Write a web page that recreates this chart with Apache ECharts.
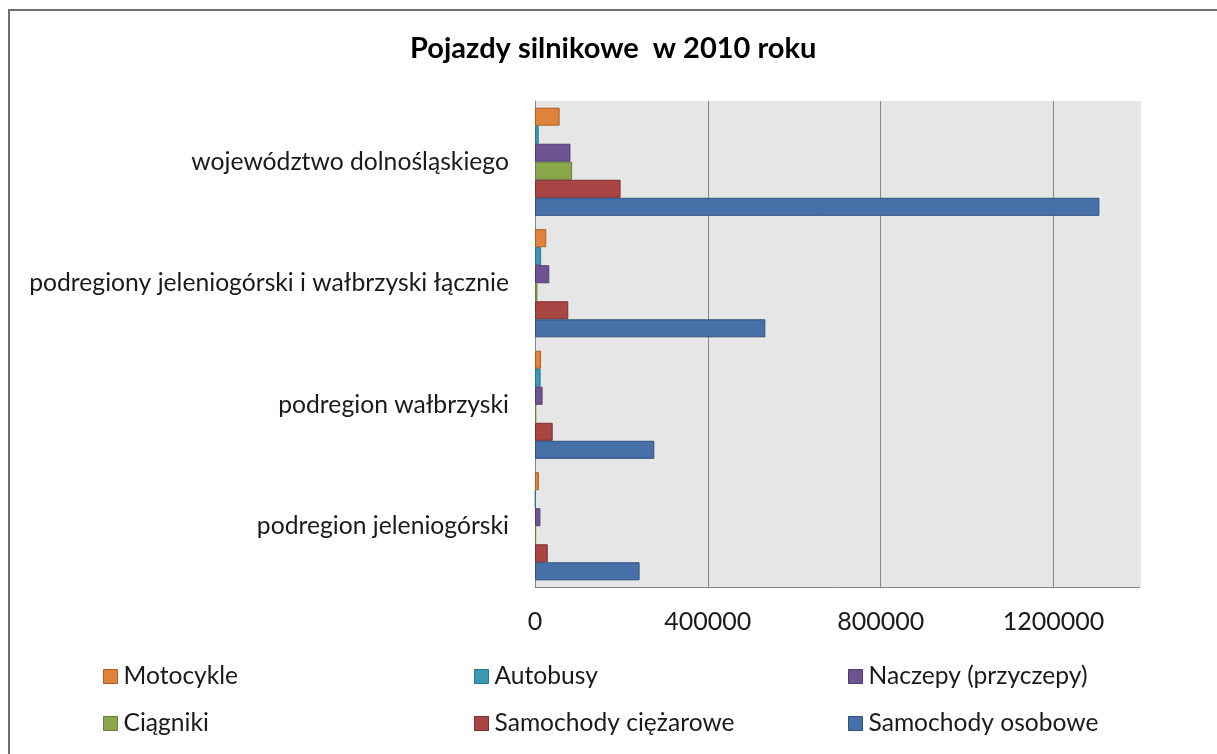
<!DOCTYPE html>
<html>
<head>
<meta charset="utf-8">
<script src="https://cdn.jsdelivr.net/npm/echarts@6/dist/echarts.min.js"></script>
<style>
html,body{margin:0;padding:0;background:#fff;}
#chart{width:1217px;height:754px;}
</style>
</head>
<body>
<div id="chart"></div>
<script>
const categories = ["województwo dolnośląskiego", "podregiony jeleniogórski i wałbrzyski łącznie", "podregion wałbrzyski", "podregion jeleniogórski"];
const seriesNames = ["Motocykle", "Autobusy", "Naczepy (przyczepy)", "Ciągniki", "Samochody ciężarowe", "Samochody osobowe"];
const motocykle = [57000, 26000, 14000, 9000];
const autobusy = [8500, 14000, 13000, 1500];
const naczepy = [82000, 33000, 17500, 12500];
const ciagniki = [86000, 5500, 3000, 2800];
const ciezarowe = [198000, 77000, 41000, 29500];
const osobowe = [1306000, 533000, 276000, 242000];
const xTicks = [0, 400000, 800000, 1200000];

const seriesData = [motocykle, autobusy, naczepy, ciagniki, ciezarowe, osobowe];
const fills = ["#E0823C", "#3A9AB4", "#6E5493", "#8BA74B", "#A94544", "#4570A8"];
const borders = ["#A95F26", "#2A7388", "#4F3B6E", "#66803A", "#7D2F2E", "#2F517D"];

const chart = echarts.init(document.getElementById('chart'));
const FONT = 'Lato';
const series = seriesNames.map((n, i) => ({
  name: n,
  type: 'bar',
  data: seriesData[i],
  barGap: '0%',
  barCategoryGap: '11%',
  itemStyle: { color: fills[i], borderColor: borders[i], borderWidth: 1 }
}));

function legendCol(names, left) {
  return {
    data: names, orient: 'vertical', left: left, top: 664, padding: 0,
    itemWidth: 14, itemHeight: 14, itemGap: 22,
    icon: 'rect',
    itemStyle: { borderWidth: 1 },
    textStyle: { fontFamily: FONT, fontSize: 24.6, lineHeight: 24, color: '#1a1a1a', padding: [0, 0, 0, 1] },
    selectedMode: false
  };
}

chart.setOption({
  animation: false,
  backgroundColor: '#ffffff',
  title: {
    text: 'Pojazdy silnikowe  w 2010 roku',
    left: 410, top: 34, padding: 0,
    textStyle: { fontFamily: FONT, fontWeight: 'bold', fontSize: 29, color: '#000' }
  },
  graphic: [{
    type: 'polyline',
    shape: { points: [[9, 760], [9, 10], [1220, 10]] },
    style: { stroke: '#6e6e6e', lineWidth: 2, fill: null },
    silent: true
  }],
  legend: [
    legendCol([seriesNames[0], seriesNames[3]], 103),
    legendCol([seriesNames[1], seriesNames[4]], 474),
    legendCol([seriesNames[2], seriesNames[5]], 848)
  ],
  grid: {
    left: 535, top: 101, width: 605, height: 486,
    show: true, backgroundColor: '#e6e6e6', borderWidth: 0
  },
  xAxis: {
    type: 'value', min: 0, max: 1400000, interval: 400000,
    axisLine: { show: true, lineStyle: { color: '#868686', width: 1 } },
    axisTick: { show: false },
    axisLabel: {
      margin: 22, fontFamily: FONT, fontSize: 25, color: '#1a1a1a',
      formatter: v => xTicks.includes(v) ? String(v) : ''
    },
    splitLine: { show: true, lineStyle: { color: ['#e6e6e6', '#868686', '#868686', '#868686', '#e6e6e6'], width: 1 } }
  },
  yAxis: {
    type: 'category', data: categories, inverse: true,
    axisLine: { show: true, lineStyle: { color: '#868686', width: 1 } },
    axisTick: { show: false },
    axisLabel: { margin: 26, fontFamily: FONT, fontSize: 24.7, color: '#1a1a1a' },
    splitLine: { show: false }
  },
  series: series
});
</script>
</body>
</html>
